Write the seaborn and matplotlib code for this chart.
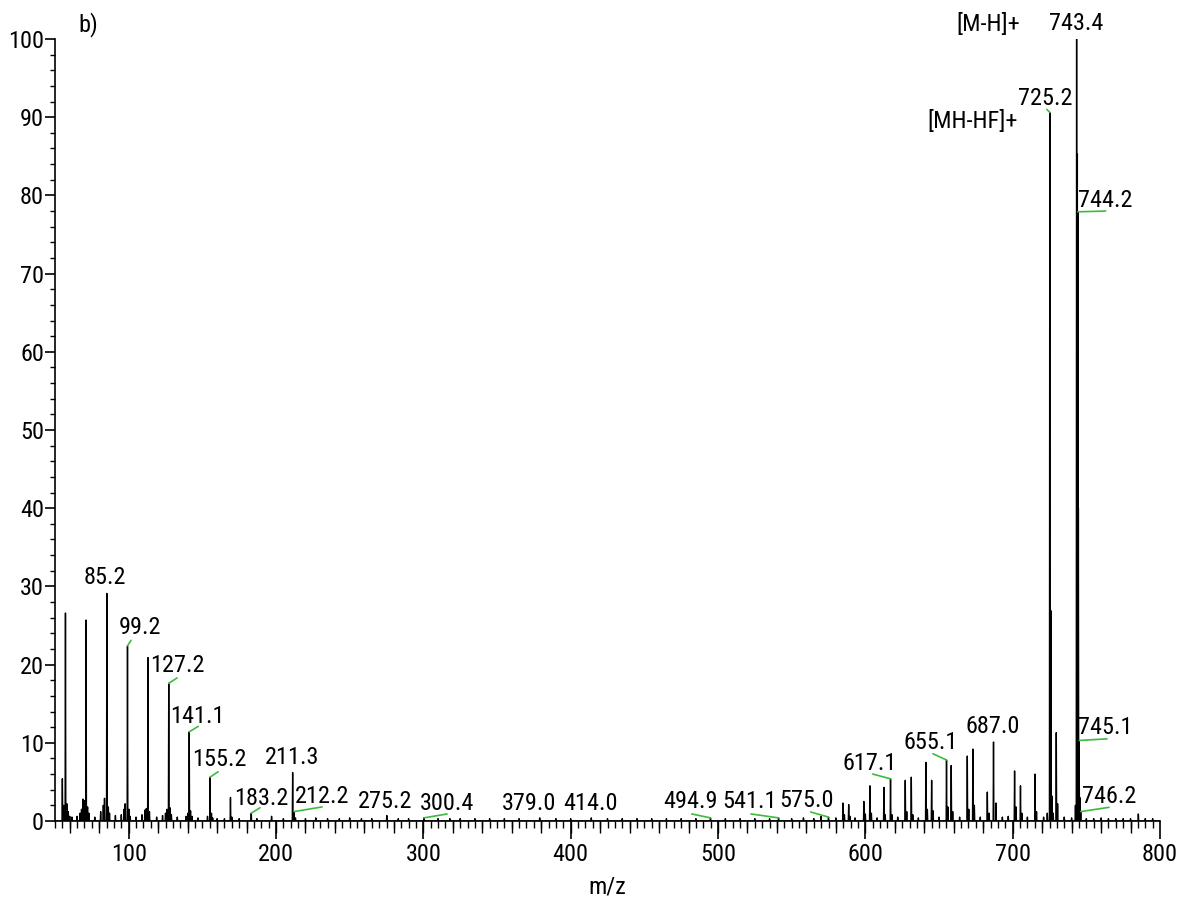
import numpy as np
import pandas as pd
import matplotlib
matplotlib.use("Agg")
import matplotlib.pyplot as plt
import seaborn as sns
from matplotlib import font_manager
from matplotlib.ticker import MultipleLocator, FixedLocator

# ---------------- data ----------------
peak_mz = [55.0, 56.0, 57.1, 58.1, 59.0, 60.0, 61.5, 65.0, 67.0, 68.0, 69.0, 70.0,
           71.1, 72.1, 73.0, 77.0, 81.0, 82.8, 83.6, 85.2, 86.2, 87.0, 91.0, 95.0,
           96.9, 97.6, 99.2, 100.2, 101.0, 105.0, 109.0, 111.0, 112.0, 113.1, 114.1,
           119.0, 123.0, 125.0, 126.0, 127.2, 128.0, 129.0, 133.0, 139.0, 140.2, 141.1,
           142.0, 143.0, 147.0, 153.5, 155.2, 156.2, 157.0, 160.0, 165.0, 169.1, 170.0,
           175.0, 183.2, 187.0, 197.0, 205.0, 211.3, 212.2, 213.2, 220.0, 227.0, 235.0,
           243.0, 250.0, 258.0, 265.0, 275.2, 283.0, 290.0, 300.4, 310.0, 318.0, 325.0,
           335.0, 345.0, 355.0, 365.0, 379.0, 390.0, 400.0, 414.0, 425.0, 435.0, 445.0,
           455.0, 465.0, 475.0, 485.0, 494.9, 505.0, 515.0, 525.0, 535.0, 541.1, 550.0,
           558.0, 565.0, 570.0, 575.0, 580.0,
           584.8, 585.8, 588.7, 589.5, 593.0, 599.0, 600.0, 603.1, 604.1, 608.0, 612.6,
           613.5, 617.1, 618.1, 622.0, 627.1, 628.1, 631.2, 632.2, 636.0, 641.1, 642.1,
           645.0, 646.0, 650.0, 655.1, 656.0, 658.3, 659.3, 664.0, 669.2, 670.2, 673.0,
           674.0, 678.0, 682.8, 684.0, 687.0, 688.7, 693.0, 697.0, 701.3, 702.3, 705.3,
           706.2, 710.0, 715.2, 716.2, 721.0, 723.5, 725.2, 725.9, 726.6, 727.5, 729.6,
           730.5, 735.0, 740.0, 742.6, 743.4, 743.9, 744.2, 744.6, 745.1, 745.6, 746.2,
           750.0, 755.0, 760.0, 765.0, 770.0, 775.0, 780.0, 785.3, 790.0, 795.0]
peak_int = [5.4, 2.0, 26.6, 2.2, 1.2, 0.6, 0.5, 0.6, 1.0, 1.5, 2.8, 2.6,
            25.7, 1.8, 1.0, 0.5, 1.2, 2.0, 2.9, 29.1, 1.8, 1.0, 0.7, 0.8,
            1.5, 2.2, 22.4, 1.5, 0.6, 0.5, 0.8, 1.4, 1.6, 20.9, 1.2,
            0.5, 0.7, 1.0, 1.5, 17.6, 1.7, 0.8, 0.5, 0.6, 1.0, 11.4,
            1.3, 0.6, 0.4, 0.6, 5.6, 1.0, 0.4, 0.3, 0.3, 3.0, 0.5,
            0.3, 1.0, 0.3, 0.6, 0.3, 6.2, 1.2, 0.4, 0.3, 0.4, 0.3,
            0.3, 0.4, 0.3, 0.3, 0.7, 0.3, 0.3, 0.4, 0.3, 0.3, 0.3,
            0.3, 0.3, 0.3, 0.3, 0.4, 0.3, 0.3, 0.4, 0.3, 0.3, 0.3,
            0.3, 0.3, 0.3, 0.3, 0.4, 0.3, 0.3, 0.3, 0.3, 0.4, 0.3,
            0.4, 0.3, 0.6, 0.5, 0.4,
            2.3, 0.8, 2.1, 0.6, 0.4, 2.5, 0.9, 4.5, 1.0, 0.4, 4.3,
            0.8, 5.4, 0.8, 0.5, 5.2, 1.2, 5.6, 0.8, 0.4, 7.5, 1.5,
            5.2, 1.3, 0.5, 7.8, 1.8, 7.1, 1.2, 0.5, 8.3, 1.5, 9.2,
            2.0, 0.5, 3.7, 1.0, 10.1, 2.3, 0.5, 0.6, 6.4, 1.8, 4.5,
            1.0, 0.5, 6.0, 1.2, 0.5, 1.0, 90.6, 26.9, 3.2, 1.0, 11.3,
            2.2, 0.5, 0.4, 2.0, 100.0, 85.3, 77.9, 40.0, 10.3, 3.0, 1.2,
            0.3, 0.3, 0.4, 0.3, 0.3, 0.3, 0.3, 0.9, 0.3, 0.3]

# labelled peaks
label_text = ["85.2", "99.2", "127.2", "141.1", "155.2", "183.2", "211.3", "212.2",
              "275.2", "300.4", "379.0", "414.0", "494.9", "541.1", "575.0", "617.1",
              "655.1", "687.0", "725.2", "743.4", "744.2", "745.1", "746.2"]
label_peak_mz = [85.2, 99.2, 127.2, 141.1, 155.2, 183.2, 211.3, 212.2, 275.2, 300.4,
                 379.0, 414.0, 494.9, 541.1, 575.0, 617.1, 655.1, 687.0, 725.2, 743.4,
                 744.2, 745.1, 746.2]
label_peak_int = [29.1, 22.4, 17.6, 11.4, 5.6, 1.0, 6.2, 1.2, 0.7, 0.4, 0.4, 0.4, 0.4,
                  0.4, 0.5, 5.4, 7.8, 10.1, 90.6, 100.0, 77.9, 10.3, 1.2]
label_x = [84.0, 107.8, 132.9, 146.3, 161.4, 189.9, 211.0, 231.1, 274.1, 316.1, 371.8,
           413.2, 481.0, 521.3, 560.4, 603.0, 644.1, 686.2, 722.0, 742.8, 762.7, 762.9, 765.2]
label_y = [31.1, 24.8, 19.9, 13.3, 7.9, 2.9, 8.1, 3.1, 2.5, 2.3, 2.3, 2.3, 2.5, 2.5,
           2.6, 7.4, 10.1, 12.1, 92.4, 102.0, 79.4, 12.0, 3.1]
leader_end_x = [None, 101.6, 132.9, 147.2, 160.7, 189.2, None, 231.3, None, 316.1, None,
                None, 482.2, 522.4, 562.9, 605.0, 645.9, None, 723.2, None, 763.1, 764.0, 765.4]
leader_end_y = [None, 23.1, 18.3, 12.1, 6.3, 1.7, None, 1.8, None, 0.9, None,
                None, 0.9, 0.9, 1.15, 6.0, 8.6, None, 91.0, None, 78.0, 10.5, 1.75]

ion_labels = ["[M-H]+", "[MH-HF]+"]
ion_x = [683.5, 672.6]
ion_y = [101.8, 89.4]

# ---------------- build stick profile ----------------
xs, ys = [], []
for m, h in sorted(zip(peak_mz, peak_int)):
    xs += [m - 0.25, m, m + 0.25]
    ys += [0.0, h, 0.0]
xs = [50.0] + xs + [800.0]
ys = [0.0] + ys + [0.0]
df = pd.DataFrame({"mz": xs, "intensity": ys})

sns.set_theme(style="ticks")

# pick a narrow sans font if one is installed
entries = font_manager.fontManager.ttflist
names = {f.name for f in entries}
family, stretch, fsize = "Liberation Sans", "normal", 16
for cand in ["Liberation Sans Narrow", "Arial Narrow", "Roboto Condensed",
             "Open Sans Condensed", "Noto Sans Condensed"]:
    if cand in names:
        family, fsize = cand, 17.5
        break
else:
    for f in entries:
        if f.name in ("DejaVu Sans", "Noto Sans", "Open Sans", "Roboto") and \
                str(f.stretch) in ("condensed", "semi-condensed", "extra-condensed") \
                and str(f.weight) in ("normal", "400", "regular"):
            family, stretch, fsize = f.name, str(f.stretch), 17
            break

plt.rcParams["font.family"] = [family, "Liberation Sans", "DejaVu Sans"]
plt.rcParams["font.stretch"] = stretch
plt.rcParams["font.size"] = fsize

fig = plt.figure(figsize=(11.79, 9.05), dpi=100)
ax = fig.add_axes([55 / 1179, (905 - 821) / 905, (1160 - 55) / 1179, (821 - 39) / 905])

sns.lineplot(data=df, x="mz", y="intensity", sort=False, estimator=None,
             color="black", linewidth=1.0, ax=ax)

ax.set_xlim(50, 800)
ax.set_ylim(0, 100)
sns.despine(ax=ax)
for s in ("left", "bottom"):
    ax.spines[s].set_color("black")
    ax.spines[s].set_linewidth(1.2)

ax.xaxis.set_major_locator(MultipleLocator(100))
ax.xaxis.set_minor_locator(MultipleLocator(5))
ax.yaxis.set_major_locator(MultipleLocator(10))
ax.yaxis.set_minor_locator(MultipleLocator(2))
ax.tick_params(axis="x", which="major", direction="out", length=13, width=1.2,
               color="black", labelsize=fsize, labelcolor="black", pad=3)
ax.tick_params(axis="x", which="minor", direction="out", length=5, width=1.0, color="black")
ax.tick_params(axis="y", which="major", direction="out", length=7, width=1.2,
               color="black", labelsize=fsize, labelcolor="black", pad=1)
ax.tick_params(axis="y", which="minor", direction="out", length=3.5, width=1.0, color="black")

sec = ax.secondary_xaxis("bottom")
sec.xaxis.set_major_locator(FixedLocator(np.arange(60, 800, 20)))
sec.tick_params(axis="x", direction="out", length=8.5, width=1.0, color="black",
                labelbottom=False)
sec.spines["bottom"].set_visible(False)
sec.xaxis.set_minor_locator(FixedLocator([]))

ax.set_xlabel("m/z", fontsize=fsize, color="black", labelpad=7)
ax.set_ylabel("")

green = "#3dbb3d"
for i, t in enumerate(label_text):
    ax.text(label_x[i], label_y[i], t, ha="center", va="center", fontsize=fsize,
            color="black", clip_on=False)
    if leader_end_x[i] is not None:
        ax.plot([label_peak_mz[i], leader_end_x[i]], [label_peak_int[i], leader_end_y[i]],
                color=green, linewidth=1.2, clip_on=False)

for t, x, y in zip(ion_labels, ion_x, ion_y):
    ax.text(x, y, t, ha="center", va="center", fontsize=fsize, color="black", clip_on=False)

ax.text(0.03, 1.018, "b)", transform=ax.transAxes, ha="center", va="center",
        fontsize=fsize, color="black", clip_on=False)

fig.savefig("out.png", dpi=100)
